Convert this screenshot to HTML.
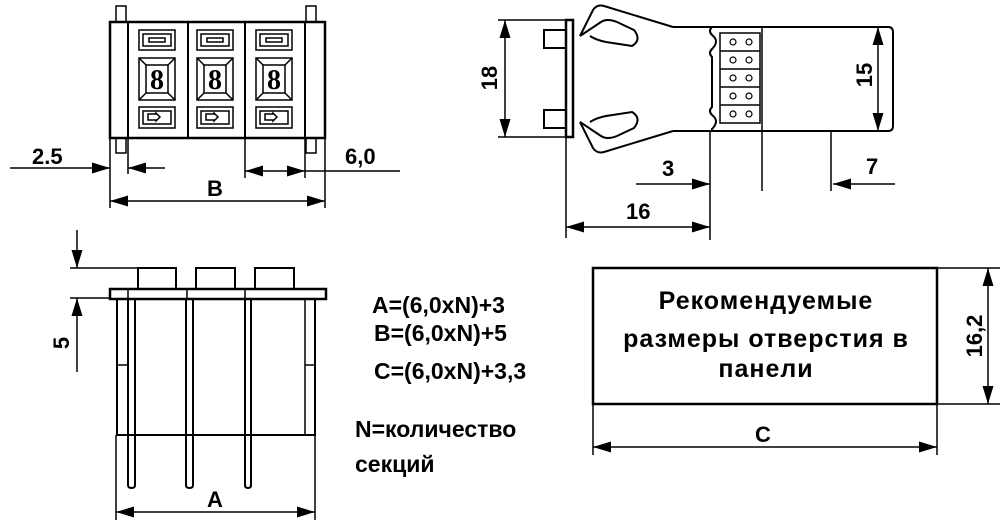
<!DOCTYPE html>
<html><head><meta charset="utf-8"><style>
html,body{margin:0;padding:0;background:#fff;}
svg{display:block;}
text{font-family:"Liberation Sans",Arial,sans-serif;font-weight:bold;fill:#000;}
</style></head><body>
<svg width="1000" height="524" viewBox="0 0 1000 524" xmlns="http://www.w3.org/2000/svg">
<defs>
<marker id="a" viewBox="0 0 10 10" refX="10" refY="5" markerWidth="18" markerHeight="11" markerUnits="userSpaceOnUse" orient="auto-start-reverse" preserveAspectRatio="none"><path d="M0,0L10,5L0,10z" fill="#000"/></marker>
</defs>
<g fill="none" stroke="#000" stroke-width="2">
<rect x="110" y="22" width="215" height="116" stroke-width="2.5"/>
<line x1="128" y1="22" x2="128" y2="138"/>
<line x1="188" y1="22" x2="188" y2="138"/>
<line x1="245" y1="22" x2="245" y2="138"/>
<line x1="305" y1="22" x2="305" y2="138"/>
<rect x="116" y="6" width="10" height="16" stroke-width="1.5"/>
<rect x="306" y="6" width="10" height="16" stroke-width="1.5"/>
<rect x="116" y="138" width="10" height="15" stroke-width="1.5"/>
<rect x="306" y="138" width="10" height="15" stroke-width="1.5"/>
<g stroke-width="1.5">
<g id="sec">
<rect x="139" y="30" width="36" height="20"/><rect x="143" y="34" width="28" height="12"/><rect x="149" y="38" width="16" height="4"/>
<rect x="139" y="58" width="36" height="42"/><rect x="146" y="65" width="22" height="28"/>
<line x1="139" y1="58" x2="146" y2="65"/><line x1="175" y1="58" x2="168" y2="65"/><line x1="139" y1="100" x2="146" y2="93"/><line x1="175" y1="100" x2="168" y2="93"/>
<text x="157" y="89" text-anchor="middle" stroke="none" style="font-family:'Liberation Serif',serif;font-size:28px">8</text>
<rect x="139" y="107" width="36" height="21"/><rect x="143" y="111" width="28" height="13"/><path d="M148,114h8v-1l4,4l-4,4v-1h-8z"/>
</g>
<use href="#sec" x="58"/><use href="#sec" x="117"/>
</g>
<g stroke-width="1.5">
<line x1="110" y1="138" x2="110" y2="208"/><line x1="325" y1="138" x2="325" y2="208"/>
<line x1="128" y1="138" x2="128" y2="174"/><line x1="245" y1="138" x2="245" y2="178"/><line x1="305" y1="138" x2="305" y2="178"/>
<line x1="10" y1="168" x2="110" y2="168" marker-end="url(#a)"/>
<line x1="165" y1="168" x2="128" y2="168" marker-end="url(#a)"/>
<line x1="245" y1="171" x2="305" y2="171" marker-start="url(#a)" marker-end="url(#a)"/>
<line x1="305" y1="171" x2="400" y2="171"/>
<line x1="110" y1="201" x2="325" y2="201" marker-start="url(#a)" marker-end="url(#a)"/>
</g>
<rect x="566" y="20" width="7" height="117" stroke-width="2.5"/>
<path d="M566,30h-22v18h22M566,110h-22v18h22"/>
<path d="M673,27H888q5,0 5,5V126q0,5-5,5H673"/>
<path d="M580,36 L593,10 Q597,4 604,6 L673,27"/>
<path d="M580,36 L601,22 Q607,18 617,22 L634,30 Q642,40 632,46 L606,42 Q596,40 590,36"/>
<path d="M580,122 L593,148 Q597,154 604,152 L673,131"/>
<path d="M580,122 L601,136 Q607,140 617,136 L634,128 Q642,118 632,112 L606,116 Q596,118 590,122"/>
<path d="M712,27 q-4,4 0,8 q8,6 0,14 q-4,4 0,8 v50 q-4,4 0,8 q8,6 0,14 v2"/>
<rect x="720" y="33" width="40" height="90" stroke-width="1.5"/>
<g stroke-width="1.5"><line x1="720" y1="51" x2="760" y2="51"/><line x1="720" y1="69" x2="760" y2="69"/><line x1="720" y1="87" x2="760" y2="87"/><line x1="720" y1="105" x2="760" y2="105"/>
<g stroke-width="1.2">
<circle cx="733" cy="42" r="3"/><circle cx="749" cy="42" r="3"/><circle cx="733" cy="60" r="3"/><circle cx="749" cy="60" r="3"/><circle cx="733" cy="78" r="3"/><circle cx="749" cy="78" r="3"/><circle cx="733" cy="96" r="3"/><circle cx="749" cy="96" r="3"/><circle cx="733" cy="114" r="3"/><circle cx="749" cy="114" r="3"/></g>
<line x1="762" y1="27" x2="762" y2="191"/>
<line x1="498" y1="20" x2="566" y2="20"/><line x1="498" y1="137" x2="566" y2="137"/>
<line x1="505" y1="20" x2="505" y2="137" marker-start="url(#a)" marker-end="url(#a)"/>
<line x1="888" y1="27" x2="890" y2="27"/><line x1="888" y1="131" x2="890" y2="131"/>
<line x1="878" y1="27" x2="878" y2="131" marker-start="url(#a)" marker-end="url(#a)"/>
<line x1="710" y1="131" x2="710" y2="240"/><line x1="831" y1="131" x2="831" y2="191"/><line x1="566" y1="137" x2="566" y2="238"/>
<line x1="636" y1="184" x2="710" y2="184" marker-end="url(#a)"/>
<line x1="895" y1="184" x2="833" y2="184" marker-end="url(#a)"/>
<line x1="566" y1="227" x2="710" y2="227" marker-start="url(#a)" marker-end="url(#a)"/>
</g>
<path d="M138,289V268h38v21M196,289V268h39v21M255,289V268h39v21"/>
<rect x="110" y="289" width="216" height="10" stroke-width="2.5"/>
<line x1="128" y1="289" x2="128" y2="299" stroke-width="1.5"/><line x1="187" y1="289" x2="187" y2="299" stroke-width="1.5"/><line x1="245" y1="289" x2="245" y2="299" stroke-width="1.5"/>
<path d="M117,299V435H315V299"/>
<path d="M117,365h10M305,365h10M305,299V435" stroke-width="1.5"/>
<path d="M128,299V485q0,3 3.5,3q3.5,0 3.5,-3V299M186,299V485q0,3 3.5,3q3.5,0 3.5,-3V299M245,299V485q0,3 3,3q3,0 3,-3V299"/>
<g stroke-width="1.5">
<line x1="70" y1="268" x2="138" y2="268"/><line x1="70" y1="298" x2="110" y2="298"/>
<line x1="77" y1="230" x2="77" y2="268" marker-end="url(#a)"/>
<line x1="77" y1="372" x2="77" y2="298" marker-end="url(#a)"/>
<line x1="116" y1="435" x2="116" y2="520"/><line x1="315" y1="435" x2="315" y2="520"/>
<line x1="116" y1="512" x2="315" y2="512" marker-start="url(#a)" marker-end="url(#a)"/>
</g>
<rect x="593" y="268" width="344" height="136" stroke-width="2.5"/>
<g stroke-width="1.5">
<line x1="937" y1="268" x2="1000" y2="268"/><line x1="937" y1="404" x2="1000" y2="404"/>
<line x1="988" y1="268" x2="988" y2="404" marker-start="url(#a)" marker-end="url(#a)"/>
<line x1="593" y1="404" x2="593" y2="455"/><line x1="937" y1="404" x2="937" y2="455"/>
<line x1="593" y1="447" x2="937" y2="447" marker-start="url(#a)" marker-end="url(#a)"/>
</g>
</g>
<g font-size="22">
<text x="32" y="164">2.5</text>
<text x="345" y="164">6,0</text>
<text x="207" y="196">B</text>
<text x="662" y="176">3</text>
<text x="866" y="174">7</text>
<text x="626" y="219">16</text>
<text transform="translate(497,78) rotate(-90)" text-anchor="middle">18</text>
<text transform="translate(872,75) rotate(-90)" text-anchor="middle">15</text>
<text transform="translate(69,343) rotate(-90)" text-anchor="middle">5</text>
<text x="207" y="507">A</text>
<text x="755" y="442">C</text>
<text transform="translate(982,336) rotate(-90)" text-anchor="middle">16,2</text>
<text x="372" y="313" font-size="23">A=(6,0xN)+3</text>
<text x="374" y="341" font-size="23">B=(6,0xN)+5</text>
<text x="374" y="379" font-size="23">C=(6,0xN)+3,3</text>
<text x="355" y="437" font-size="23">N=количество</text>
<text x="355" y="472" font-size="23">секций</text>
<g font-size="25" letter-spacing="1">
<text x="766" y="309" text-anchor="middle">Рекомендуемые</text>
<text x="766" y="347" text-anchor="middle">размеры отверстия в</text>
<text x="766" y="377" text-anchor="middle">панели</text>
</g>
</g>
</svg>
</body></html>
